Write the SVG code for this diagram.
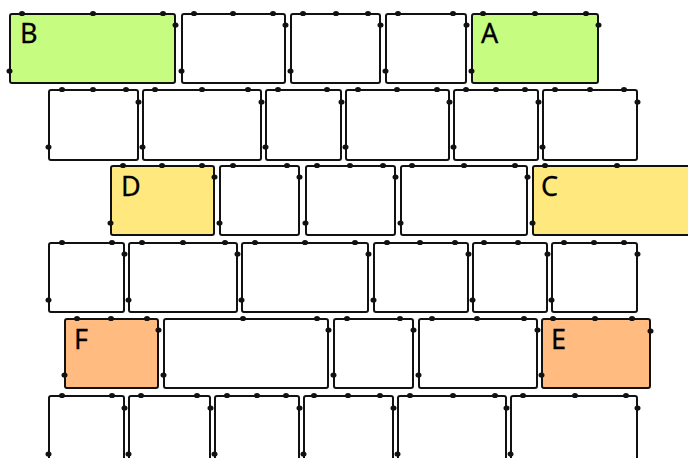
<svg xmlns="http://www.w3.org/2000/svg" width="688" height="458" viewBox="0 0 688 458">
<style>
.b{fill:#fff;stroke:#111;stroke-width:2;}
.g{fill:#c6fd80;}
.y{fill:#ffe97f;}
.o{fill:#ffbb80;}
.p{fill:#111;}
.t{font-family:"Noto Sans","Open Sans",sans-serif;font-size:27px;fill:#000;stroke:#000;stroke-width:0.3;}
</style>
<defs><ellipse id="p" rx="3" ry="2.6" class="p"/></defs>
<g id="nodes">
<!-- Row 1 -->
<g id="B"><rect class="b g" x="10" y="14" width="165" height="69" rx="2"/><use href="#p" x="22" y="13.5"/><use href="#p" x="93" y="13.5"/><use href="#p" x="163" y="13.5"/><use href="#p" x="175.5" y="25"/><use href="#p" x="9.5" y="71"/><text class="t" x="20" y="43">B</text></g>
<g id="r1n2"><rect class="b" x="182" y="14" width="103" height="69" rx="2"/><use href="#p" x="194" y="13.5"/><use href="#p" x="233" y="13.5"/><use href="#p" x="273" y="13.5"/><use href="#p" x="285.5" y="25"/><use href="#p" x="181.5" y="71"/></g>
<g id="r1n3"><rect class="b" x="291" y="14" width="89" height="69" rx="2"/><use href="#p" x="303" y="13.5"/><use href="#p" x="336" y="13.5"/><use href="#p" x="368" y="13.5"/><use href="#p" x="380.5" y="25"/><use href="#p" x="290.5" y="71"/></g>
<g id="r1n4"><rect class="b" x="386" y="14" width="80" height="69" rx="2"/><use href="#p" x="398" y="13.5"/><use href="#p" x="453" y="13.5"/><use href="#p" x="466.5" y="25"/><use href="#p" x="385.5" y="71"/></g>
<g id="A"><rect class="b g" x="472" y="14" width="126" height="69" rx="2"/><use href="#p" x="483" y="13.5"/><use href="#p" x="535" y="13.5"/><use href="#p" x="586" y="13.5"/><use href="#p" x="598.5" y="25"/><use href="#p" x="471.5" y="71"/><text class="t" x="481" y="43">A</text></g>
<!-- Row 2 -->
<g id="r2n1"><rect class="b" x="49" y="90" width="89" height="70" rx="2"/><use href="#p" x="62" y="89.5"/><use href="#p" x="93" y="89.5"/><use href="#p" x="126" y="89.5"/><use href="#p" x="138.5" y="102"/><use href="#p" x="48.5" y="147"/></g>
<g id="r2n2"><rect class="b" x="143" y="90" width="118" height="70" rx="2"/><use href="#p" x="155" y="89.5"/><use href="#p" x="202" y="89.5"/><use href="#p" x="248" y="89.5"/><use href="#p" x="261.5" y="102"/><use href="#p" x="142.5" y="147"/></g>
<g id="r2n3"><rect class="b" x="266" y="90" width="75" height="70" rx="2"/><use href="#p" x="278" y="89.5"/><use href="#p" x="327" y="89.5"/><use href="#p" x="341.5" y="102"/><use href="#p" x="265.5" y="147"/></g>
<g id="r2n4"><rect class="b" x="346" y="90" width="103" height="70" rx="2"/><use href="#p" x="358" y="89.5"/><use href="#p" x="397" y="89.5"/><use href="#p" x="437" y="89.5"/><use href="#p" x="449.5" y="102"/><use href="#p" x="345.5" y="147"/></g>
<g id="r2n5"><rect class="b" x="454" y="90" width="84" height="70" rx="2"/><use href="#p" x="466" y="89.5"/><use href="#p" x="496" y="89.5"/><use href="#p" x="525" y="89.5"/><use href="#p" x="538.5" y="102"/><use href="#p" x="453.5" y="147"/></g>
<g id="r2n6"><rect class="b" x="543" y="90" width="94" height="70" rx="2"/><use href="#p" x="555" y="89.5"/><use href="#p" x="590" y="89.5"/><use href="#p" x="624" y="89.5"/><use href="#p" x="637.5" y="102"/><use href="#p" x="542.5" y="147"/></g>
<!-- Row 3 -->
<g id="D"><rect class="b y" x="111" y="166" width="103" height="69" rx="2"/><use href="#p" x="123" y="165.5"/><use href="#p" x="162" y="165.5"/><use href="#p" x="202" y="165.5"/><use href="#p" x="214.5" y="177"/><use href="#p" x="110.5" y="223"/><text class="t" x="121" y="196">D</text></g>
<g id="r3n2"><rect class="b" x="220" y="166" width="79" height="69" rx="2"/><use href="#p" x="233" y="165.5"/><use href="#p" x="287" y="165.5"/><use href="#p" x="299.5" y="177"/><use href="#p" x="219.5" y="223"/></g>
<g id="r3n3"><rect class="b" x="306" y="166" width="89" height="69" rx="2"/><use href="#p" x="317" y="165.5"/><use href="#p" x="350" y="165.5"/><use href="#p" x="383" y="165.5"/><use href="#p" x="395.5" y="177"/><use href="#p" x="305.5" y="223"/></g>
<g id="r3n4"><rect class="b" x="401" y="166" width="126" height="69" rx="2"/><use href="#p" x="412" y="165.5"/><use href="#p" x="464" y="165.5"/><use href="#p" x="515" y="165.5"/><use href="#p" x="527.5" y="177"/><use href="#p" x="400.5" y="223"/></g>
<g id="C"><rect class="b y" x="533" y="166" width="168" height="69" rx="2"/><use href="#p" x="545" y="165.5"/><use href="#p" x="617" y="165.5"/><use href="#p" x="532.5" y="223"/><text class="t" x="541" y="196">C</text></g>
<!-- Row 4 -->
<g id="r4n1"><rect class="b" x="49" y="243" width="75" height="69" rx="2"/><use href="#p" x="62" y="242.5"/><use href="#p" x="112" y="242.5"/><use href="#p" x="124.5" y="254"/><use href="#p" x="48.5" y="300"/></g>
<g id="r4n2"><rect class="b" x="129" y="243" width="108" height="69" rx="2"/><use href="#p" x="142" y="242.5"/><use href="#p" x="183" y="242.5"/><use href="#p" x="225" y="242.5"/><use href="#p" x="237.5" y="254"/><use href="#p" x="128.5" y="300"/></g>
<g id="r4n3"><rect class="b" x="242" y="243" width="126" height="69" rx="2"/><use href="#p" x="255" y="242.5"/><use href="#p" x="305" y="242.5"/><use href="#p" x="355" y="242.5"/><use href="#p" x="368.5" y="254"/><use href="#p" x="241.5" y="300"/></g>
<g id="r4n4"><rect class="b" x="374" y="243" width="94" height="69" rx="2"/><use href="#p" x="387" y="242.5"/><use href="#p" x="420" y="242.5"/><use href="#p" x="455" y="242.5"/><use href="#p" x="468.5" y="254"/><use href="#p" x="373.5" y="300"/></g>
<g id="r4n5"><rect class="b" x="473" y="243" width="74" height="69" rx="2"/><use href="#p" x="484" y="242.5"/><use href="#p" x="518" y="242.5"/><use href="#p" x="547.5" y="254"/><use href="#p" x="472.5" y="300"/></g>
<g id="r4n6"><rect class="b" x="552" y="243" width="85" height="69" rx="2"/><use href="#p" x="564" y="242.5"/><use href="#p" x="594" y="242.5"/><use href="#p" x="624" y="242.5"/><use href="#p" x="637.5" y="254"/><use href="#p" x="551.5" y="300"/></g>
<!-- Row 5 -->
<g id="F"><rect class="b o" x="65" y="319" width="93" height="69" rx="2"/><use href="#p" x="77" y="318.5"/><use href="#p" x="111" y="318.5"/><use href="#p" x="147" y="318.5"/><use href="#p" x="158.5" y="330"/><use href="#p" x="64.5" y="375"/><text class="t" x="74" y="349">F</text></g>
<g id="r5n2"><rect class="b" x="164" y="319" width="164" height="69" rx="2"/><use href="#p" x="243" y="318.5"/><use href="#p" x="317" y="318.5"/><use href="#p" x="328.5" y="330"/><use href="#p" x="163.5" y="375"/></g>
<g id="r5n3"><rect class="b" x="334" y="319" width="79" height="69" rx="2"/><use href="#p" x="347" y="318.5"/><use href="#p" x="400" y="318.5"/><use href="#p" x="413.5" y="330"/><use href="#p" x="333.5" y="375"/></g>
<g id="r5n4"><rect class="b" x="419" y="319" width="118" height="69" rx="2"/><use href="#p" x="432" y="318.5"/><use href="#p" x="477" y="318.5"/><use href="#p" x="524" y="318.5"/><use href="#p" x="537.5" y="330"/><use href="#p" x="418.5" y="375"/></g>
<g id="E"><rect class="b o" x="542" y="319" width="108" height="69" rx="2"/><use href="#p" x="553" y="318.5"/><use href="#p" x="595" y="318.5"/><use href="#p" x="632" y="318.5"/><use href="#p" x="650.5" y="331"/><use href="#p" x="541.5" y="375"/><text class="t" x="551" y="349">E</text></g>
<!-- Row 6 -->
<g id="r6n1"><rect class="b" x="49" y="396" width="75" height="70" rx="2"/><use href="#p" x="62" y="395.5"/><use href="#p" x="112" y="395.5"/><use href="#p" x="124.5" y="408"/><use href="#p" x="48.5" y="454"/></g>
<g id="r6n2"><rect class="b" x="129" y="396" width="81" height="70" rx="2"/><use href="#p" x="141" y="395.5"/><use href="#p" x="197" y="395.5"/><use href="#p" x="210.5" y="408"/><use href="#p" x="128.5" y="454"/></g>
<g id="r6n3"><rect class="b" x="215" y="396" width="84" height="70" rx="2"/><use href="#p" x="227" y="395.5"/><use href="#p" x="257" y="395.5"/><use href="#p" x="286" y="395.5"/><use href="#p" x="299.5" y="408"/><use href="#p" x="214.5" y="454"/></g>
<g id="r6n4"><rect class="b" x="304" y="396" width="89" height="70" rx="2"/><use href="#p" x="314" y="395.5"/><use href="#p" x="348" y="395.5"/><use href="#p" x="380" y="395.5"/><use href="#p" x="393.5" y="408"/><use href="#p" x="303.5" y="454"/></g>
<g id="r6n5"><rect class="b" x="398" y="396" width="108" height="70" rx="2"/><use href="#p" x="410" y="395.5"/><use href="#p" x="453" y="395.5"/><use href="#p" x="495" y="395.5"/><use href="#p" x="506.5" y="408"/><use href="#p" x="397.5" y="454"/></g>
<g id="r6n6"><rect class="b" x="511" y="396" width="126" height="70" rx="2"/><use href="#p" x="523" y="395.5"/><use href="#p" x="575" y="395.5"/><use href="#p" x="626" y="395.5"/><use href="#p" x="637.5" y="408"/><use href="#p" x="510.5" y="454"/></g>
</g>
</svg>
